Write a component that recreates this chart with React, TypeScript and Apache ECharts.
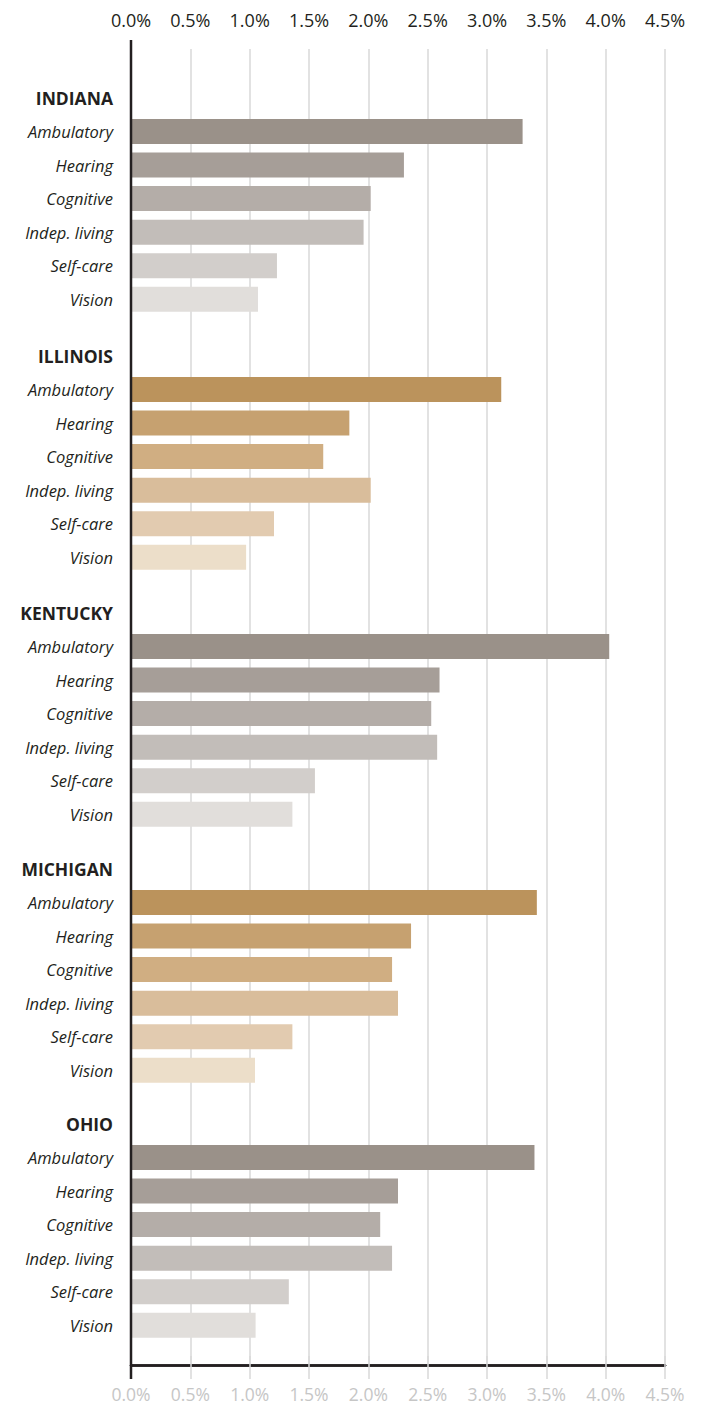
import React, { useEffect, useRef } from "react";
import * as echarts from "echarts";

const states = ["INDIANA", "ILLINOIS", "KENTUCKY", "MICHIGAN", "OHIO"];
const categories = ["Ambulatory", "Hearing", "Cognitive", "Indep. living", "Self-care", "Vision"];
const indiana = [3.3, 2.3, 2.02, 1.96, 1.23, 1.07];
const illinois = [3.12, 1.84, 1.62, 2.02, 1.205, 0.97];
const kentucky = [4.03, 2.6, 2.53, 2.58, 1.55, 1.36];
const michigan = [3.42, 2.36, 2.2, 2.25, 1.36, 1.045];
const ohio = [3.4, 2.25, 2.1, 2.2, 1.33, 1.05];

const grayPalette = ["#9a9189", "#a69e98", "#b4ada8", "#c2bdb9", "#d2cecb", "#e1dedb"];
const tanPalette = ["#bb935c", "#c6a170", "#d0ae82", "#d9bd9b", "#e2cbb0", "#ecdec9"];

const FONT = "Open Sans";
const ROW = 33.55;
const ambCenters = [131.5, 389.5, 646.5, 902.5, 1157.5];

export default function App() {
  const ref = useRef<HTMLDivElement>(null);
  useEffect(() => {
    document.body.style.margin = "0";
    const chart = echarts.init(ref.current!, undefined, { renderer: "svg" });
    const allValues = [indiana, illinois, kentucky, michigan, ohio];
    const grids: any[] = [{ left: 131, right: 36, top: 49, bottom: 41 }];
    const xAxes: any[] = [
      {
        gridIndex: 0,
        type: "value",
        position: "top",
        min: 0,
        max: 4.5,
        interval: 0.5,
        axisLine: { show: true, lineStyle: { color: "#231f20", width: 2.5 } },
        axisTick: { show: true, length: 9, lineStyle: { color: "#d9d9d9", width: 1.5 } },
        axisLabel: {
          margin: 20,
          color: "#231f20",
          fontFamily: FONT,
          fontSize: 18,
          lineHeight: 18,
          formatter: (v: number) => v.toFixed(1) + "%",
        },
        splitLine: { show: true, lineStyle: { color: "#d9d9d9", width: 1.5 } },
      },
      {
        gridIndex: 0,
        type: "value",
        position: "bottom",
        min: 0,
        max: 4.5,
        interval: 0.5,
        axisLine: { show: true, lineStyle: { color: "#231f20", width: 2.5 } },
        axisTick: { show: true, length: 14, lineStyle: { color: "#d9d9d9", width: 1.5 } },
        axisLabel: {
          margin: 20,
          color: "#c6c6c6",
          fontFamily: FONT,
          fontSize: 17.5,
          lineHeight: 17,
          formatter: (v: number) => v.toFixed(1) + "%",
        },
        splitLine: { show: false },
      },
    ];
    const yAxes: any[] = [{ gridIndex: 0, type: "value", show: false, min: 0, max: 1 }];
    const series: any[] = [];
    states.forEach((st, i) => {
      const gi = i + 1;
      grids.push({ left: 131, right: 36, top: ambCenters[i] - 1.5 * ROW, height: 7 * ROW });
      xAxes.push({ gridIndex: gi, type: "value", min: 0, max: 4.5, show: false });
      yAxes.push({
        gridIndex: gi,
        type: "category",
        inverse: true,
        data: [st, ...categories],
        axisLine: { show: false },
        axisTick: { show: false },
        splitLine: { show: false },
        axisLabel: {
          margin: 18,
          formatter: (v: string, idx: number) => (idx === 0 ? `{h|${v}}` : `{c|${v}}`),
          rich: {
            h: { fontFamily: FONT, fontWeight: "bold", fontSize: 17.5, color: "#231f20" },
            c: { fontFamily: FONT, fontStyle: "italic", fontSize: 16.5, color: "#231f20" },
          },
        },
      });
      const palette = i % 2 === 0 ? grayPalette : tanPalette;
      series.push({
        type: "bar",
        xAxisIndex: gi + 1,
        yAxisIndex: gi,
        barWidth: 25,
        data: ["-", ...allValues[i]],
        itemStyle: { color: (p: any) => palette[p.dataIndex - 1] },
        z: 3,
      });
    });
    chart.setOption({
      animation: false,
      backgroundColor: "#ffffff",
      grid: grids,
      xAxis: xAxes,
      yAxis: yAxes,
      series,
      graphic: [
        {
          type: "line",
          z: 100,
          shape: { x1: 131, y1: 40, x2: 131, y2: 1379 },
          style: { stroke: "#231f20", lineWidth: 2.5 },
        },
      ],
    });
    return () => chart.dispose();
  }, []);
  return <div ref={ref} style={{ width: 701, height: 1406 }} />;
}
